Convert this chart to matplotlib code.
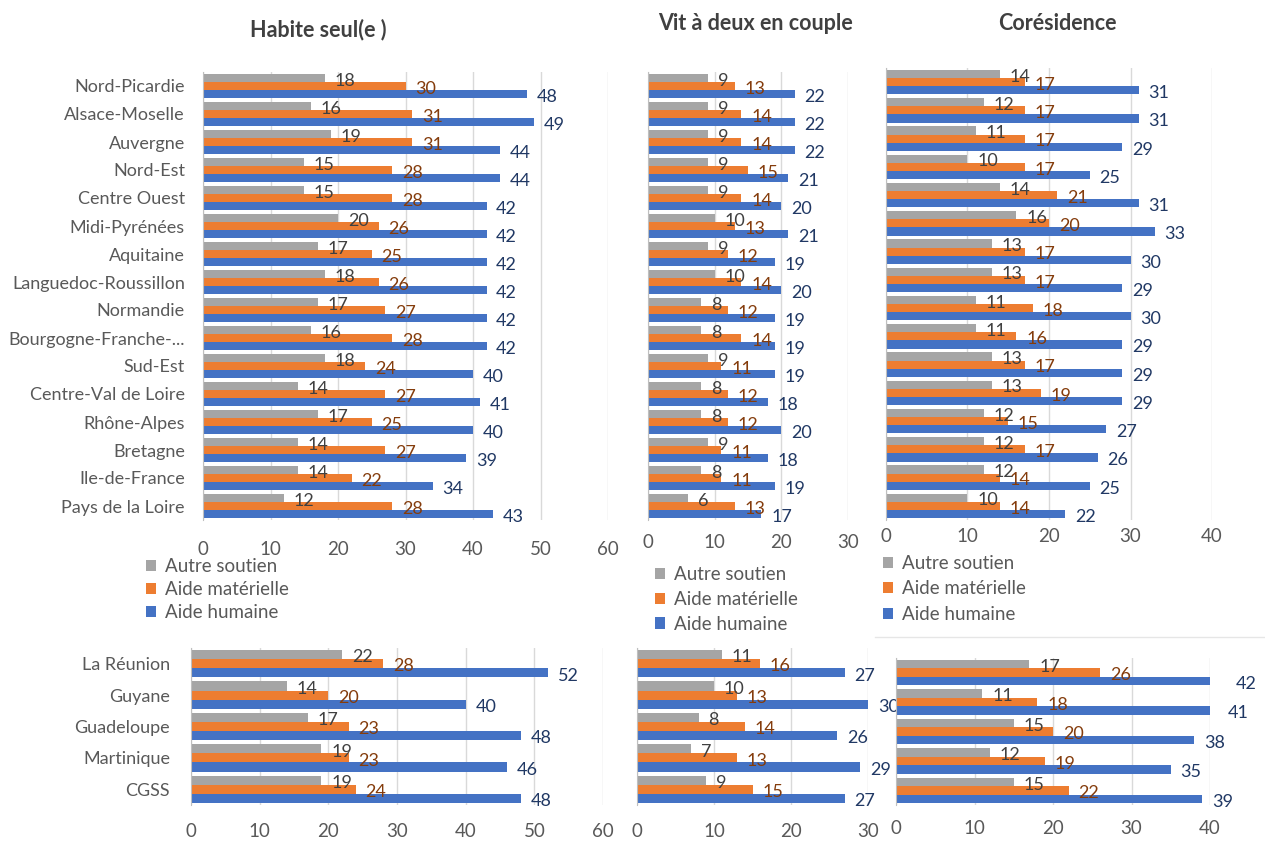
import matplotlib
matplotlib.use("Agg")
import matplotlib.pyplot as plt
from matplotlib.patches import Patch
from matplotlib.lines import Line2D
import numpy as np

W, H = 1265, 848
plt.rcParams['font.family'] = ['Lato', 'DejaVu Sans']

# ---------------- data ----------------
regions_metro = ["Nord-Picardie", "Alsace-Moselle", "Auvergne", "Nord-Est", "Centre Ouest",
                 "Midi-Pyrénées", "Aquitaine", "Languedoc-Roussillon", "Normandie",
                 "Bourgogne-Franche-...", "Sud-Est", "Centre-Val de Loire", "Rhône-Alpes",
                 "Bretagne", "Ile-de-France", "Pays de la Loire"]
regions_dom = ["La Réunion", "Guyane", "Guadeloupe", "Martinique", "CGSS"]

series_names = ["Autre soutien", "Aide matérielle", "Aide humaine"]
panel_titles = ["Habite seul(e )", "Vit à deux en couple", "Corésidence"]

# Habite seul(e)
seul_autre = [18, 16, 19, 15, 15, 20, 17, 18, 17, 16, 18, 14, 17, 14, 14, 12]
seul_mat = [30, 31, 31, 28, 28, 26, 25, 26, 27, 28, 24, 27, 25, 27, 22, 28]
seul_hum = [48, 49, 44, 44, 42, 42, 42, 42, 42, 42, 40, 41, 40, 39, 34, 43]
# Vit à deux en couple
couple_autre = [9, 9, 9, 9, 9, 10, 9, 10, 8, 8, 9, 8, 8, 9, 8, 6]
couple_mat = [13, 14, 14, 15, 14, 13, 12, 14, 12, 14, 11, 12, 12, 11, 11, 13]
couple_hum = [22, 22, 22, 21, 20, 21, 19, 20, 19, 19, 19, 18, 20, 18, 19, 17]
# Corésidence
cores_autre = [14, 12, 11, 10, 14, 16, 13, 13, 11, 11, 13, 13, 12, 12, 12, 10]
cores_mat = [17, 17, 17, 17, 21, 20, 17, 17, 18, 16, 17, 19, 15, 17, 14, 14]
cores_hum = [31, 31, 29, 25, 31, 33, 30, 29, 30, 29, 29, 29, 27, 26, 25, 22]

# DOM
dom_seul_autre = [22, 14, 17, 19, 19]
dom_seul_mat = [28, 20, 23, 23, 24]
dom_seul_hum = [52, 40, 48, 46, 48]
dom_couple_autre = [11, 10, 8, 7, 9]
dom_couple_mat = [16, 13, 14, 13, 15]
dom_couple_hum = [27, 30, 26, 29, 27]
dom_cores_autre = [17, 11, 15, 12, 15]
dom_cores_mat = [26, 18, 20, 19, 22]
dom_cores_hum = [42, 41, 38, 35, 39]

bar_colors = ["#A5A5A5", "#ED7D31", "#4472C4"]
label_colors = ["#404040", "#843C0C", "#203864"]

fig = plt.figure(figsize=(W / 100, H / 100), dpi=100)


def ax_at(x0, y0, x1, y1):
    return fig.add_axes([x0 / W, 1 - y1 / H, (x1 - x0) / W, (y1 - y0) / H])


def draw(ax, cats, vals3, xmax, show_cats, xpad, cpad=13):
    n = len(cats)
    y = np.arange(n)
    h = 0.29
    for k, vals in enumerate(vals3):
        yy = y + (k - 1) * h
        ax.barh(yy, vals, height=h, color=bar_colors[k], zorder=2)
        for yi, v in zip(yy, vals):
            ax.annotate(f"{v:.0f}", (v, yi), xytext=(7, -2), textcoords="offset points",
                        va="center", ha="left", fontsize=13, color=label_colors[k],
                        zorder=3, annotation_clip=False)
    ax.set_xlim(0, xmax)
    ax.set_ylim(n - 0.5, -0.5)
    ax.set_xticks(range(0, xmax + 1, 10))
    ax.grid(axis="x", color="#D9D9D9", lw=1)
    ax.set_axisbelow(True)
    for s in ["top", "right", "bottom"]:
        ax.spines[s].set_visible(False)
    ax.spines["left"].set_color("#BFBFBF")
    ax.tick_params(axis="x", length=0, labelsize=13.5, labelcolor="#595959", pad=xpad)
    if show_cats:
        ax.set_yticks(y)
        ax.set_yticklabels(cats, fontsize=13, color="#595959")
        ax.tick_params(axis="y", length=0, pad=cpad)
    else:
        ax.set_yticks([])


# top row
ax1 = ax_at(203, 72, 608, 520)
draw(ax1, regions_metro, [seul_autre, seul_mat, seul_hum], 60, True, 15)
ax2 = ax_at(648, 72, 848, 520)
draw(ax2, regions_metro, [couple_autre, couple_mat, couple_hum], 30, False, 10)
ax3 = ax_at(886, 68, 1212, 520)
draw(ax3, regions_metro, [cores_autre, cores_mat, cores_hum], 40, False, 6)

# bottom row
ax4 = ax_at(191, 648, 603, 805)
draw(ax4, regions_dom, [dom_seul_autre, dom_seul_mat, dom_seul_hum], 60, True, 13, cpad=15)
ax5 = ax_at(637, 648, 868, 805)
draw(ax5, regions_dom, [dom_couple_autre, dom_couple_mat, dom_couple_hum], 30, False, 13)
ax6 = ax_at(896, 658, 1210, 805)
draw(ax6, regions_dom, [dom_cores_autre, dom_cores_mat, dom_cores_hum], 40, False, 11)

# titles
for (x, yv), t in zip([(318, 30), (755, 24), (1057, 24)], panel_titles):
    fig.text(x / W, 1 - yv / H, t, ha="center", va="center", fontsize=15.5,
             fontweight="bold", color="#404040")

# legends
handles = [Patch(facecolor=c, edgecolor="none") for c in bar_colors]
for (x, yv, sp) in [(146, 558, 0.32), (655, 566, 0.42), (883, 555, 0.45)]:
    fig.legend(handles, series_names, loc="upper left",
               bbox_to_anchor=(x / W, 1 - yv / H), frameon=False, fontsize=13.5,
               labelcolor="#595959", handlelength=0.55, handleheight=0.55,
               handletextpad=0.45, labelspacing=sp, borderpad=0, borderaxespad=0)

# separator line from the original screenshot
fig.add_artist(Line2D([875 / W, 1], [1 - 637 / H, 1 - 637 / H], color="#E6E6E6", lw=1))

fig.savefig("out.png", dpi=100, facecolor="white")
